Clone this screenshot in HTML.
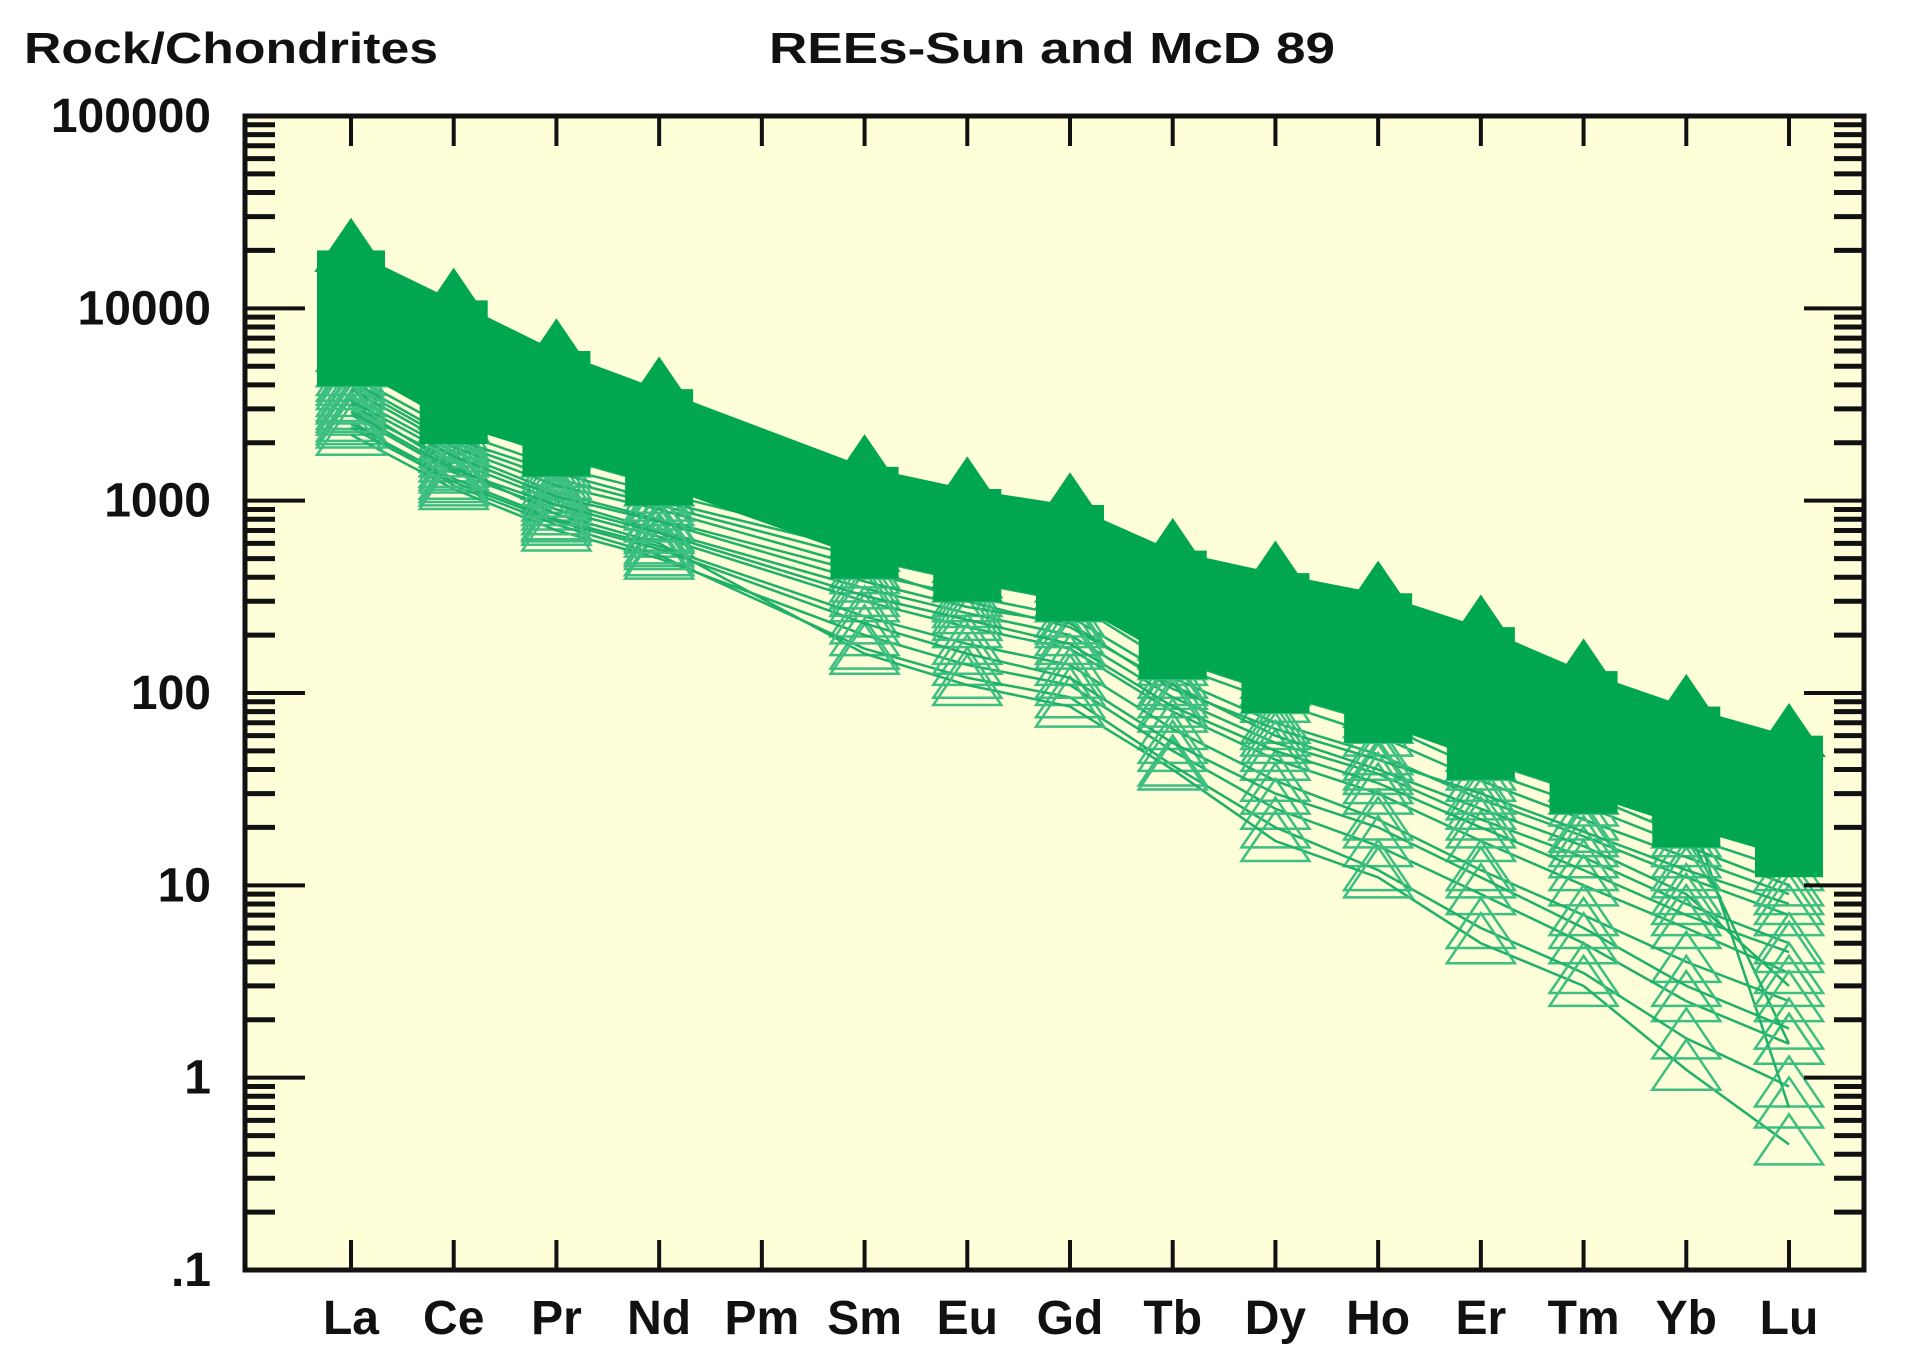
<!DOCTYPE html>
<html><head><meta charset="utf-8"><style>
html,body{margin:0;padding:0;background:#fff;}
svg{display:block;}
text{font-family:"Liberation Sans",Arial,sans-serif;font-weight:bold;fill:#111;}
</style></head><body>
<svg id="chart" width="1920" height="1353" viewBox="0 0 1920 1353" xmlns="http://www.w3.org/2000/svg">
<rect x="0" y="0" width="1920" height="1353" fill="#fff"/>
<text x="24" y="63" font-size="44" textLength="414" lengthAdjust="spacingAndGlyphs">Rock/Chondrites</text>
<text x="769" y="63" font-size="44" textLength="566" lengthAdjust="spacingAndGlyphs">REEs-Sun and McD 89</text>
<rect x="245" y="116" width="1619" height="1154" fill="#fefed8"/>
<g id="series"></g>
<g id="band"></g>
<g id="ticks"></g>
<rect x="245" y="116" width="1619" height="1154" fill="none" stroke="#111" stroke-width="5"/>
<g id="labels"></g>
</svg>
<script>
const categories = ["La","Ce","Pr","Nd","Pm","Sm","Eu","Gd","Tb","Dy","Ho","Er","Tm","Yb","Lu"];
const yTickLabels = ["100000","10000","1000","100","10","1",".1"];
const yTickValues = [100000,10000,1000,100,10,1,0.1];
const bandTop = [20000,11000,6000,3800,null,1500,1150,950,550,420,330,220,130,85,60];
const bandLow = [5000,2500,1700,1200,null,500,380,300,150,100,70,45,30,20,14];
const s1 = [4500,2300,1500,1100,null,600,450,350,170,110,75,45,30,18,12];
const s2 = [4000,2000,1300,950,null,500,380,300,140,90,60,35,22,14,9];
const s3 = [3500,1800,1100,800,null,420,320,250,120,70,48,28,18,11,7];
const s4 = [3000,1600,1000,700,null,350,260,200,95,55,38,22,14,8,5];
const s5 = [2800,1400,900,650,null,300,220,170,80,45,30,17,10,6,3.5];
const s6 = [2500,1300,800,580,null,250,180,140,65,35,22,12,7,4,2.5];
const s7 = [2200,1150,700,500,null,200,140,110,50,25,16,9,5,2.5,1.5];
const s8 = [2600,1200,750,520,null,170,120,95,42,20,12,6,3.5,1.6,0.9];
const s9 = [3200,1500,850,600,null,160,110,85,40,17,11,5,3,1.1,0.45];
const s10 = [5000,2600,1700,1200,null,650,480,380,190,120,85,50,35,20,1.5];
const s11 = [6000,3000,1900,1400,null,800,600,450,230,160,110,70,45,28,0.7];
const s12 = [3800,1900,1200,900,null,450,300,220,110,60,40,25,16,9,3];
const s13 = [4200,2100,1400,1000,null,550,400,320,150,100,70,40,26,16,10];
const s14 = [2400,1250,780,560,null,230,160,120,55,30,20,11,6,3,1.8];
const s15 = [3300,1700,1050,780,null,380,280,230,105,65,45,30,19,12,8];
const s16 = [2900,1450,950,680,null,320,240,180,85,50,34,20,12,7,4.5];
const lightSeries = [s1,s2,s3,s4,s5,s6,s7,s8,s9,s10,s11,s12,s13,s14,s15,s16];

const NS="http://www.w3.org/2000/svg";
const PL=245,PR=1864,PT=116,PB=1270;
function xPos(i){return 351+i*(1789-351)/(categories.length-1);}
function yPos(v){return PB-(Math.log10(v)+1)*(PB-PT)/6;}
function mk(tag,attrs,parent){const e=document.createElementNS(NS,tag);for(const k in attrs)e.setAttribute(k,attrs[k]);parent.appendChild(e);return e;}
function pts(arr){const p=[];arr.forEach((v,i)=>{if(v!=null)p.push([xPos(i),yPos(v)]);});return p;}
function tri(x,y){const w=34,h=50;return `${x},${y-h*0.6} ${x-w},${y+h*0.4} ${x+w},${y+h*0.4}`;}

const sg=document.getElementById('series');
lightSeries.forEach((s,k)=>{
  const p=pts(s);
  const line=mk('polyline',{points:p.map(q=>q.join(',')).join(' '),fill:'none',stroke:'#1fb06a','stroke-width':2.5},sg);
  
  
  p.forEach(q=>{const t=mk('polygon',{points:tri(q[0],q[1]),fill:'none',stroke:'#3cbf80','stroke-width':2.5},sg);
  
  });
});

const bandG=document.getElementById('band');
const topPts=pts(bandTop), lowPts=pts(bandLow);
const poly=mk('polygon',{points:topPts.concat(lowPts.slice().reverse()).map(p=>p.join(',')).join(' '),fill:'#00a650'},bandG);


topPts.forEach((p,i)=>{
  const lw=lowPts[i];
  const r=mk('rect',{x:p[0]-34,y:p[1],width:68,height:Math.max(0,lw[1]-p[1]+20),fill:'#00a650'},bandG);
  
  
  const t=mk('polygon',{points:tri(p[0],p[1]),fill:'#00a650',stroke:'#00a650','stroke-width':3},bandG);
  
  });

const tg=document.getElementById('ticks');
for(let d=-1;d<5;d++){for(let m=1;m<=9;m++){
  const v=m*Math.pow(10,d); const y=yPos(v);
  const len=m===1?60:30;
  const a=mk('line',{x1:PL,x2:PL+len,y1:y,y2:y,stroke:'#111','stroke-width':m===1?4:5},tg);
  
  
  const b=mk('line',{x1:PR,x2:PR-len,y1:y,y2:y,stroke:'#111','stroke-width':m===1?4:5},tg);
  
  
}}
categories.forEach((c,i)=>{const x=xPos(i);
  const a=mk('line',{x1:x,x2:x,y1:PT,y2:PT+30,stroke:'#111','stroke-width':4},tg);
  
  
  const b=mk('line',{x1:x,x2:x,y1:PB,y2:PB-30,stroke:'#111','stroke-width':4},tg);
  
  
});
const lg=document.getElementById('labels');
categories.forEach((c,i)=>{const t=mk('text',{x:xPos(i),y:1334,'font-size':48,'text-anchor':'middle'},lg);t.textContent=c;
  
  });
yTickValues.forEach((v,i)=>{const t=mk('text',{x:211,y:yPos(v)+16,'font-size':48,'text-anchor':'end'},lg);t.textContent=yTickLabels[i];
  
  });
</script>
</body></html>
